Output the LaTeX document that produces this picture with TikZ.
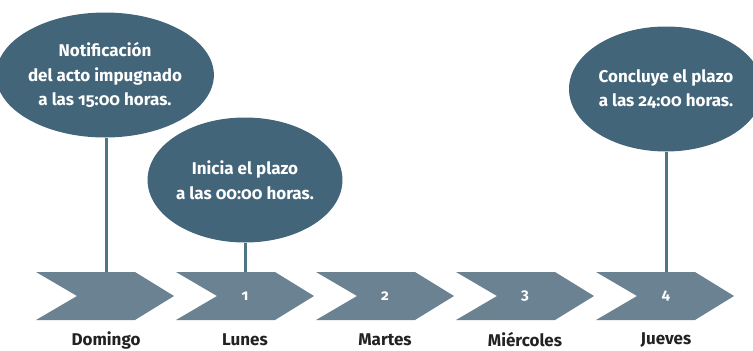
\documentclass[tikz,border=0pt]{standalone}
\usepackage{fontspec}
\setmainfont[Numbers=OldStyle,RawFeature=+onum]{Fira Sans}
\usetikzlibrary{shapes.geometric}
\definecolor{ellc}{HTML}{436579}
\definecolor{chevc}{HTML}{6B8292}
\definecolor{linec}{HTML}{4F7585}
\definecolor{txtc}{HTML}{222222}
\tikzset{
  bubble/.style={ellipse, fill=ellc, minimum width=194pt, minimum height=125pt, inner sep=0pt,
    text=white, font=\bfseries\fontsize{17}{24.5}\selectfont, align=center},
  stem/.style={draw=linec, line width=3pt},
  daylabel/.style={text=txtc, font=\bfseries\fontsize{17}{20}\selectfont},
  numlabel/.style={text=white, font=\bfseries\fontsize{15}{16}\selectfont},
}
\begin{document}
\begin{tikzpicture}[x=1pt,y=-1pt]
\useasboundingbox (0,0) rectangle (753,351);
% chevrons
\foreach \i/\x in {0/36,1/176,2/316,3/456,4/596}{
  \fill[chevc] (\x,272) -- (\x+99,272) -- (\x+138,296) -- (\x+99,320) -- (\x,320) -- (\x+41,296) -- cycle;
}
% anchor coordinates on chevron tops
\coordinate (t0) at (106,272);
\coordinate (t1) at (245,272);
\coordinate (t4) at (666,272);
% bubbles
\node[bubble] (b0) at (105,75) {Notificación\\del acto impugnado\\a las 15:00 horas.};
\node[bubble] (b1) at (245,180) {Inicia el plazo\\a las 00:00 horas.};
\node[bubble] (b4) at (666,89) {Concluye el plazo\\a las 24:00 horas.};
% stems
\draw[stem] (b0.south -| t0) -- (t0);
\draw[stem] (b1.south -| t1) -- (t1);
\draw[stem] (b4.south -| t4) -- (t4);
% numbers
\node[numlabel] (n1) at (245,296) {1};
\node[numlabel] (n2) at (385,296) {2};
\node[numlabel] (n3) at (525,296) {3};
\node[numlabel] (n4) at (666,296) {4};
% day labels
\node[daylabel] (d0) at (106,340) {Domingo};
\node[daylabel] (d1) at (245,340) {Lunes};
\node[daylabel] (d2) at (385,340) {Martes};
\node[daylabel] (d3) at (525,340) {Miércoles};
\node[daylabel] (d4) at (666,340) {Jueves};
\end{tikzpicture}
\end{document}
